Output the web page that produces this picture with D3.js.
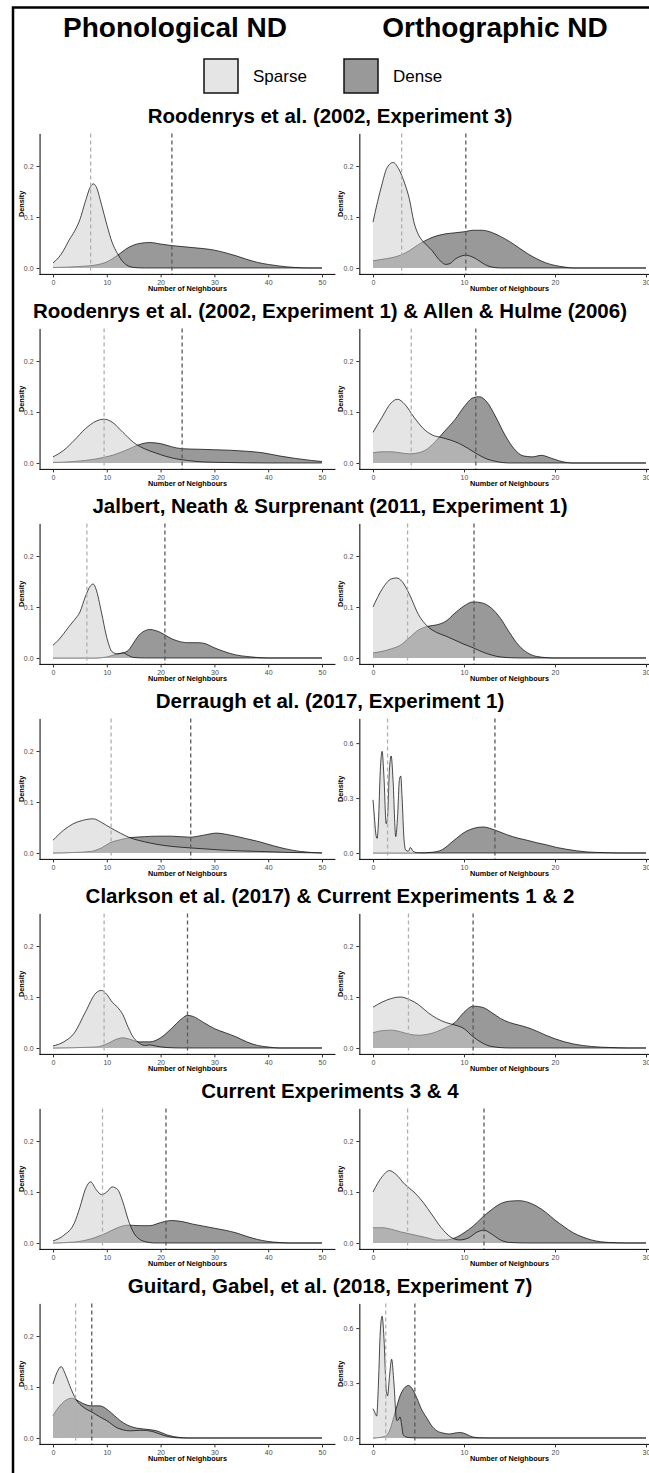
<!DOCTYPE html>
<html>
<head>
<meta charset="utf-8">
<script src="https://cdn.jsdelivr.net/npm/d3@7"></script>
<style>
  body { margin: 0; background: #fff; }
  text { font-family: "Liberation Sans", Arial, sans-serif; }
</style>
</head>
<body>
<svg width="649" height="1473"></svg>
<script>
// panel titles, one per row
var titles = [
  "Roodenrys et al. (2002, Experiment 3)",
  "Roodenrys et al. (2002, Experiment 1) & Allen & Hulme (2006)",
  "Jalbert, Neath & Surprenant (2011, Experiment 1)",
  "Derraugh et al. (2017, Experiment 1)",
  "Clarkson et al. (2017) & Current Experiments 1 & 2",
  "Current Experiments 3 & 4",
  "Guitard, Gabel, et al. (2018, Experiment 7)"
];

var headers = ["Phonological ND", "Orthographic ND"];
var groups = ["Sparse", "Dense"];

var phonXTicks = [0, 10, 20, 30, 40, 50];
var orthXTicks = [0, 10, 20, 30];
var yTicksLow = [0, 0.1, 0.2];
var yTicksHigh = [0, 0.3, 0.6];

// mean number of neighbours (dashed lines)
var phonSparseMean = [7.0, 9.5, 6.3, 10.8, 9.5, 9.2, 4.2];
var phonDenseMean = [22.1, 24.0, 20.8, 25.6, 25.0, 21.0, 7.2];
var orthSparseMean = [3.15, 4.2, 3.8, 1.6, 3.9, 3.8, 1.4];
var orthDenseMean = [10.2, 11.3, 11.1, 13.4, 11.0, 12.2, 4.6];

// density curves: [neighbours, density]
var r1PhonSparse = [[0,0.01],[1,0.02],[2,0.035],[3,0.055],[4,0.072],[5,0.095],[6,0.13],[7,0.16],[7.5,0.165],[8,0.16],[9,0.125],[10,0.085],[11,0.05],[12,0.028],[13,0.012],[14,0.004],[15,0.001],[17,0],[50,0]];
var r1PhonDense = [[0,0.001],[5,0.003],[8,0.006],[10,0.012],[12,0.025],[14,0.04],[16,0.048],[18,0.05],[20,0.047],[22,0.044],[24,0.042],[26,0.04],[28,0.038],[30,0.035],[32,0.03],[34,0.024],[36,0.017],[38,0.011],[40,0.007],[42,0.004],[45,0.001],[48,0],[50,0]];
var r1OrthSparse = [[0,0.09],[0.5,0.13],[1,0.165],[1.5,0.195],[2.2,0.207],[2.8,0.195],[3.5,0.165],[4,0.135],[4.5,0.09],[5,0.065],[5.5,0.052],[6,0.043],[6.5,0.034],[7,0.022],[7.5,0.012],[8,0.007],[8.5,0.009],[9,0.017],[9.5,0.022],[10.2,0.025],[11,0.021],[11.5,0.016],[12,0.01],[12.5,0.005],[13,0.002],[14,0],[30,0]];
var r1OrthDense = [[0,0.014],[1,0.017],[2,0.02],[3,0.025],[4,0.034],[5,0.046],[6,0.056],[7,0.063],[8,0.067],[9,0.069],[10,0.071],[11,0.074],[12,0.074],[13,0.07],[14,0.062],[15,0.052],[16,0.04],[17,0.028],[18,0.018],[19,0.01],[20,0.005],[21,0.002],[22,0],[30,0]];

var r2PhonSparse = [[0,0.012],[2,0.025],[4,0.045],[6,0.067],[8,0.082],[9.5,0.086],[11,0.08],[13,0.06],[15,0.04],[17,0.028],[19,0.02],[21,0.013],[23,0.008],[25,0.005],[28,0.002],[32,0.001],[40,0],[50,0]];
var r2PhonDense = [[0,0.001],[4,0.003],[8,0.008],[11,0.015],[14,0.027],[16,0.036],[18,0.04],[20,0.038],[22,0.032],[24,0.028],[27,0.027],[30,0.026],[33,0.025],[36,0.023],[39,0.02],[42,0.014],[45,0.009],[48,0.005],[50,0.003]];
var r2OrthSparse = [[0,0.06],[1,0.09],[2,0.118],[2.7,0.125],[3.5,0.115],[4.5,0.09],[5.5,0.068],[6.5,0.055],[7.5,0.05],[8.5,0.045],[9.5,0.038],[10.5,0.028],[11.5,0.017],[12.5,0.008],[13.5,0.003],[15,0],[30,0]];
var r2OrthDense = [[0,0.02],[1,0.022],[2,0.022],[3,0.02],[4,0.018],[5,0.02],[6,0.028],[7,0.045],[8,0.065],[9,0.085],[10,0.11],[11,0.128],[11.7,0.13],[12.5,0.12],[13.5,0.09],[14.5,0.055],[15.5,0.028],[16.5,0.014],[17.5,0.012],[18.5,0.015],[19.5,0.01],[20.5,0.004],[22,0],[30,0]];

var r3PhonSparse = [[0,0.025],[1,0.035],[2,0.048],[3,0.062],[4,0.075],[5,0.09],[6,0.12],[7,0.142],[7.5,0.145],[8,0.135],[9,0.09],[10,0.04],[11,0.012],[12,0.008],[13,0.01],[14,0.005],[15,0.001],[17,0],[50,0]];
var r3PhonDense = [[0,0],[8,0],[10,0.002],[12,0.008],[13,0.01],[14,0.015],[15,0.03],[16,0.045],[17,0.053],[18,0.056],[19,0.054],[20,0.05],[21,0.044],[22,0.038],[23,0.034],[25,0.03],[27,0.03],[28,0.029],[30,0.02],[32,0.012],[34,0.006],[36,0.003],[38,0.001],[40,0],[50,0]];
var r3OrthSparse = [[0,0.1],[1,0.135],[2,0.155],[2.6,0.157],[3.2,0.15],[4,0.125],[5,0.085],[6,0.062],[7,0.05],[8,0.043],[9,0.035],[10,0.027],[11,0.02],[12,0.012],[13,0.006],[14,0.002],[16,0],[30,0]];
var r3OrthDense = [[0,0.01],[1,0.013],[2,0.018],[3,0.025],[4,0.04],[5,0.055],[6,0.062],[7,0.065],[8,0.072],[9,0.088],[10,0.102],[11,0.11],[12,0.108],[13,0.098],[14,0.078],[15,0.05],[16,0.025],[17,0.01],[18,0.003],[20,0],[30,0]];

var r4PhonSparse = [[0,0.025],[2,0.045],[3.7,0.057],[5.5,0.064],[7.5,0.067],[9,0.06],[10.6,0.05],[12.5,0.039],[14.3,0.03],[17,0.022],[19.3,0.017],[22,0.013],[25.5,0.01],[31,0.006],[35,0.004],[38.4,0.003],[44,0.001],[50,0]];
var r4PhonDense = [[0,0],[4,0.001],[7,0.003],[9,0.01],[10.6,0.02],[12.5,0.026],[14.3,0.03],[17,0.032],[19.3,0.033],[22,0.033],[25.5,0.031],[28,0.035],[30.4,0.039],[32,0.037],[33.5,0.034],[36,0.028],[38.4,0.022],[41,0.014],[43.3,0.008],[46,0.003],[50,0]];
var r4OrthSparse = [[0,0.29],[0.15,0.2],[0.3,0.11],[0.45,0.08],[0.6,0.17],[0.8,0.45],[1.0,0.555],[1.2,0.42],[1.45,0.16],[1.6,0.2],[1.8,0.45],[2.0,0.53],[2.2,0.4],[2.5,0.09],[2.7,0.2],[2.9,0.4],[3.05,0.42],[3.2,0.3],[3.4,0.08],[3.6,0.015],[3.9,0.01],[4.1,0.03],[4.4,0.01],[4.8,0.002],[5.5,0],[30,0]];
var r4OrthDense = [[0,0],[5,0],[6.5,0.004],[7.6,0.018],[8.8,0.065],[10.3,0.12],[12.1,0.142],[13.4,0.125],[14.7,0.1],[16,0.08],[16.9,0.07],[18,0.056],[19.1,0.044],[20.2,0.03],[21.3,0.02],[23.5,0.006],[25.4,0.002],[27,0],[30,0]];

var r5PhonSparse = [[0,0.004],[2,0.012],[4,0.03],[6,0.07],[8,0.108],[9,0.113],[10,0.105],[11,0.09],[12,0.08],[13,0.065],[14,0.04],[15,0.02],[16,0.01],[17,0.005],[18,0.006],[19,0.004],[21,0.001],[24,0],[50,0]];
var r5PhonDense = [[0,0],[8,0.002],[10,0.008],[12,0.018],[13,0.02],[14,0.018],[16,0.012],[18,0.012],[20,0.02],[22,0.038],[24,0.058],[25,0.064],[26,0.062],[28,0.05],[30,0.038],[32,0.03],[34,0.022],[36,0.012],[38,0.005],[40,0.002],[42,0],[50,0]];
var r5OrthSparse = [[0,0.08],[1,0.09],[2,0.097],[3,0.1],[4,0.095],[5,0.085],[6,0.07],[7,0.058],[8,0.05],[9,0.045],[10,0.038],[11,0.022],[12,0.01],[13,0.003],[15,0],[30,0]];
var r5OrthDense = [[0,0.03],[1,0.034],[2,0.035],[3,0.032],[4,0.027],[5,0.025],[6,0.027],[7,0.032],[8,0.04],[9,0.05],[10,0.07],[11,0.082],[12,0.08],[13,0.07],[14,0.058],[15,0.05],[16,0.045],[17,0.04],[18,0.033],[19,0.025],[20,0.018],[22,0.008],[24,0.003],[26,0.001],[28,0],[30,0]];

var r6PhonSparse = [[0,0.004],[2,0.015],[4,0.04],[5,0.07],[6,0.105],[7,0.12],[8,0.105],[9,0.095],[10,0.1],[11,0.11],[12,0.105],[13,0.08],[14,0.045],[15,0.02],[16,0.008],[17,0.003],[19,0],[50,0]];
var r6PhonDense = [[0,0],[4,0.002],[7,0.008],[10,0.02],[12,0.03],[14,0.035],[16,0.034],[18,0.034],[20,0.04],[22,0.044],[24,0.042],[26,0.037],[28,0.033],[30,0.029],[32,0.025],[34,0.02],[36,0.013],[38,0.007],[40,0.003],[42,0.001],[44,0],[50,0]];
var r6OrthSparse = [[0,0.1],[1,0.13],[1.8,0.142],[2.5,0.135],[3.5,0.115],[4.5,0.1],[5.5,0.08],[6.5,0.055],[7.5,0.03],[8.5,0.012],[9.5,0.006],[10.5,0.01],[11.5,0.022],[12.2,0.025],[13,0.018],[14,0.006],[15,0.001],[17,0],[30,0]];
var r6OrthDense = [[0,0.03],[1,0.03],[2,0.027],[3,0.022],[4,0.018],[5,0.014],[6,0.01],[7,0.006],[8,0.006],[9,0.01],[10,0.02],[11,0.033],[12,0.05],[13,0.065],[14,0.077],[15,0.082],[16,0.083],[17,0.08],[18,0.072],[19,0.06],[20,0.045],[21,0.032],[22,0.02],[23,0.012],[24,0.006],[26,0.001],[28,0],[30,0]];

var r7PhonSparse = [[0,0.106],[0.8,0.13],[1.5,0.14],[2.3,0.125],[3.1,0.103],[4.3,0.075],[5.7,0.06],[7.2,0.051],[8.6,0.042],[10,0.034],[11.9,0.02],[13,0.016],[14.4,0.014],[16,0.015],[16.9,0.015],[18.7,0.012],[20.6,0.005],[22.4,0.001],[24,0],[50,0]];
var r7PhonDense = [[0,0.044],[0.8,0.057],[1.6,0.067],[2.5,0.075],[3.5,0.078],[4.3,0.075],[5.5,0.068],[7.2,0.063],[8.7,0.063],[10.3,0.054],[11.4,0.044],[12.5,0.034],[13.7,0.026],[14.9,0.021],[17.4,0.017],[19.3,0.014],[21.2,0.006],[23.6,0.001],[25,0],[50,0]];
var r7OrthSparse = [[0,0.16],[0.2,0.14],[0.4,0.12],[0.6,0.3],[0.8,0.58],[1.0,0.665],[1.2,0.55],[1.45,0.27],[1.6,0.23],[1.8,0.33],[2.05,0.43],[2.3,0.3],[2.6,0.096],[2.8,0.1],[2.97,0.115],[3.15,0.07],[3.3,0.02],[3.6,0.006],[4.0,0.002],[5,0],[30,0]];
var r7OrthDense = [[0,0],[1,0.005],[1.5,0.015],[1.9,0.05],[2.2,0.1],[2.6,0.17],[2.97,0.23],[3.4,0.27],[3.9,0.287],[4.3,0.27],[4.8,0.22],[5.3,0.16],[5.9,0.11],[6.4,0.07],[7,0.04],[7.7,0.027],[8.4,0.022],[9,0.027],[9.6,0.03],[10.2,0.022],[10.7,0.01],[11.7,0.001],[13,0],[30,0]];

var phonSparse = [r1PhonSparse, r2PhonSparse, r3PhonSparse, r4PhonSparse, r5PhonSparse, r6PhonSparse, r7PhonSparse];
var phonDense = [r1PhonDense, r2PhonDense, r3PhonDense, r4PhonDense, r5PhonDense, r6PhonDense, r7PhonDense];
var orthSparse = [r1OrthSparse, r2OrthSparse, r3OrthSparse, r4OrthSparse, r5OrthSparse, r6OrthSparse, r7OrthSparse];
var orthDense = [r1OrthDense, r2OrthDense, r3OrthDense, r4OrthDense, r5OrthDense, r6OrthDense, r7OrthDense];
// upper density limit per orthographic panel (the two spiky ones are taller)
var orthYMax = [0.2514, 0.2514, 0.2514, 0.7, 0.2514, 0.2514, 0.7];
var phonYMax = 0.2514;

var svg = d3.select("svg");

var rowStep = 195,
    firstZero = 268,
    panelH = 141,
    sparseFill = "#cccccc",
    denseFill = "#333333";

// frame (left and top edges only, the rest is cropped)
svg.append("path")
    .attr("d", "M13,1473V7.5H649")
    .attr("fill", "none")
    .attr("stroke", "#000")
    .attr("stroke-width", 2.5);

svg.selectAll(".header")
  .data(headers)
  .enter().append("text")
    .attr("x", function(d, i) { return i ? 495 : 175; })
    .attr("y", 37)
    .attr("text-anchor", "middle")
    .attr("font-size", 28)
    .attr("font-weight", "bold")
    .text(function(d) { return d; });

// legend
var legend = svg.selectAll(".legend")
  .data(groups)
  .enter().append("g")
    .attr("transform", function(d, i) { return "translate(" + (204 + i * 140) + ",59)"; });

legend.append("rect")
    .attr("width", 34)
    .attr("height", 34)
    .attr("fill", function(d, i) { return i ? denseFill : sparseFill; })
    .attr("fill-opacity", 0.5)
    .attr("stroke", "#111")
    .attr("stroke-width", 1.5);

legend.append("text")
    .attr("x", 49)
    .attr("y", 23)
    .attr("font-size", 17)
    .text(function(d) { return d; });

titles.forEach(function(t, i) {
  var zero = firstZero + i * rowStep;
  svg.append("text")
      .attr("x", 330)
      .attr("y", zero - 145)
      .attr("text-anchor", "middle")
      .attr("font-size", 20.5)
      .attr("font-weight", "bold")
      .text(t);

  drawPanel({
    zero: zero, x0: 53, x1: 322, xMax: 50, xTicks: phonXTicks,
    yMax: phonYMax, yTicks: yTicksLow,
    sparse: phonSparse[i], dense: phonDense[i],
    sparseMean: phonSparseMean[i], denseMean: phonDenseMean[i]
  });
  drawPanel({
    zero: zero, x0: 373, x1: 646, xMax: 30, xTicks: orthXTicks,
    yMax: orthYMax[i], yTicks: orthYMax[i] > 0.5 ? yTicksHigh : yTicksLow,
    sparse: orthSparse[i], dense: orthDense[i],
    sparseMean: orthSparseMean[i], denseMean: orthDenseMean[i]
  });
});

function drawPanel(p) {
  var pad = (p.x1 - p.x0) * 0.05;
  var bottom = p.zero + 6.4;
  var x = d3.scaleLinear().domain([0, p.xMax]).range([p.x0, p.x1]);
  var y = d3.scaleLinear()
      .domain([-0.05 * p.yMax, 1.05 * p.yMax])
      .range([bottom, bottom - panelH]);

  var g = svg.append("g");

  var area = d3.area()
      .x(function(d) { return x(d[0]); })
      .y0(y(0))
      .y1(function(d) { return y(d[1]); })
      .curve(d3.curveMonotoneX);

  var line = d3.line()
      .x(function(d) { return x(d[0]); })
      .y(function(d) { return y(d[1]); })
      .curve(d3.curveMonotoneX);

  [[p.dense, denseFill], [p.sparse, sparseFill]].forEach(function(s) {
    g.append("path")
        .attr("d", area(s[0]))
        .attr("fill", s[1])
        .attr("fill-opacity", 0.5);
    g.append("path")
        .attr("d", line(s[0]))
        .attr("fill", "none")
        .attr("stroke", "#000")
        .attr("stroke-width", 0.7);
  });

  [[p.sparseMean, "#b0b0b0"], [p.denseMean, "#5a5a5a"]].forEach(function(m) {
    g.append("line")
        .attr("x1", x(m[0]))
        .attr("x2", x(m[0]))
        .attr("y1", bottom - panelH)
        .attr("y2", bottom)
        .attr("stroke", m[1])
        .attr("stroke-width", 1.3)
        .attr("stroke-dasharray", "4,3");
  });

  var xAxis = g.append("g")
      .attr("transform", "translate(0," + bottom + ")")
      .call(d3.axisBottom(x).tickValues(p.xTicks).tickSize(3).tickSizeOuter(0));
  xAxis.select(".domain").attr("d", "M" + (p.x0 - pad) + ",0H" + (p.x1 + pad));

  var yAxis = g.append("g")
      .attr("transform", "translate(" + (p.x0 - pad) + ",0)")
      .call(d3.axisLeft(y).tickValues(p.yTicks).tickSize(3).tickSizeOuter(0)
          .tickFormat(d3.format(".1f")));

  g.selectAll(".domain").attr("stroke", "#000").attr("stroke-width", 1);
  g.selectAll(".tick line").attr("stroke", "#333");
  g.selectAll(".tick text")
      .attr("fill", "#4d4d4d")
      .attr("font-size", 7)
      .attr("font-family", "Liberation Sans, Arial, sans-serif");

  g.append("text")
      .attr("x", (p.x0 + p.x1) / 2)
      .attr("y", bottom + 17)
      .attr("text-anchor", "middle")
      .attr("font-size", 7.3)
      .attr("font-weight", "bold")
      .text("Number of Neighbours");

  g.append("text")
      .attr("transform", "translate(" + (p.x0 - pad - 16) + "," + (bottom - panelH / 2) + ")rotate(-90)")
      .attr("text-anchor", "middle")
      .attr("font-size", 7.3)
      .attr("font-weight", "bold")
      .text("Density");
}
</script>
</body>
</html>
